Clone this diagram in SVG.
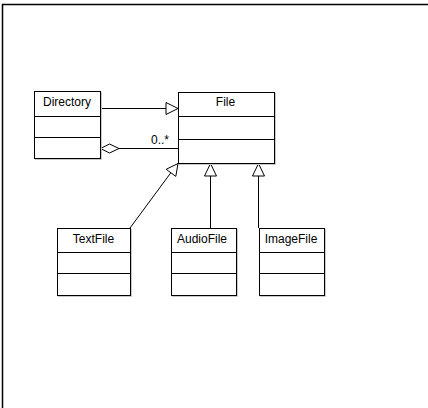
<svg xmlns="http://www.w3.org/2000/svg" width="428" height="408" viewBox="0 0 428 408">
<style>
.box{fill:#fff;stroke:#000;stroke-width:1}
.sh{fill:none;stroke:#c8c8c8;stroke-width:1}
.div{stroke:#000;stroke-width:1}
.t{font-family:"Liberation Sans",Arial,sans-serif;font-size:12px;fill:#000;text-anchor:middle}
.c{fill:none;stroke:#000;stroke-width:1}
.head{fill:#fff;stroke:#000;stroke-width:1}
</style>
<rect x="0" y="0" width="428" height="408" fill="#fff"/>
<path d="M2.5,408 V4.5 H428" fill="none" stroke="#000" stroke-width="1.5"/>
<g id="connectors">
<line class="c" x1="100" y1="108.5" x2="166" y2="108.5"/>
<polygon class="head" points="166,102.5 178,108.5 166,114.5"/>
<line class="c" x1="119" y1="148.5" x2="178" y2="148.5"/>
<polygon class="head" points="100.5,148.5 109.5,144 119,148.5 109.5,153"/>
<text class="t" x="160" y="144">0..*</text>
<line class="c" x1="130" y1="228" x2="171" y2="172.5"/>
<polygon class="head" points="178,163.5 175.8,176.4 166.2,169.3"/>
<line class="c" x1="210.5" y1="176" x2="210.5" y2="228"/>
<polygon class="head" points="210.5,163.5 204.5,176 216.5,176"/>
<line class="c" x1="258.5" y1="176" x2="258.5" y2="228"/>
<polygon class="head" points="258.5,163.5 252.5,176 264.5,176"/>
</g>
<g id="Directory">
<path class="sh" d="M101.5,92 V159.5 H35"/>
<rect class="box" x="34.5" y="91.5" width="66" height="67"/>
<line class="div" x1="34.5" y1="116.5" x2="100.5" y2="116.5"/>
<line class="div" x1="34.5" y1="137.5" x2="100.5" y2="137.5"/>
<text class="t" x="67" y="106">Directory</text>
</g>
<g id="File">
<path class="sh" d="M275.5,93 V164.5 H179"/>
<rect class="box" x="178.5" y="92.5" width="96" height="71"/>
<line class="div" x1="178.5" y1="116.5" x2="274.5" y2="116.5"/>
<line class="div" x1="178.5" y1="139.5" x2="274.5" y2="139.5"/>
<text class="t" x="225.5" y="106">File</text>
</g>
<g id="TextFile">
<path class="sh" d="M131.5,229 V296.5 H58"/>
<rect class="box" x="57.5" y="228.5" width="73" height="67"/>
<line class="div" x1="57.5" y1="252.5" x2="130.5" y2="252.5"/>
<line class="div" x1="57.5" y1="273.5" x2="130.5" y2="273.5"/>
<text class="t" x="93.5" y="242.5">TextFile</text>
</g>
<g id="AudioFile">
<path class="sh" d="M237.5,229 V296.5 H172"/>
<rect class="box" x="171.5" y="228.5" width="65" height="67"/>
<line class="div" x1="171.5" y1="252.5" x2="236.5" y2="252.5"/>
<line class="div" x1="171.5" y1="273.5" x2="236.5" y2="273.5"/>
<text class="t" x="202" y="242.5">AudioFile</text>
</g>
<g id="ImageFile">
<path class="sh" d="M325.5,229 V296.5 H260"/>
<rect class="box" x="259.5" y="228.5" width="65" height="67"/>
<line class="div" x1="259.5" y1="252.5" x2="324.5" y2="252.5"/>
<line class="div" x1="259.5" y1="273.5" x2="324.5" y2="273.5"/>
<text class="t" x="291" y="242.5">ImageFile</text>
</g>
</svg>
